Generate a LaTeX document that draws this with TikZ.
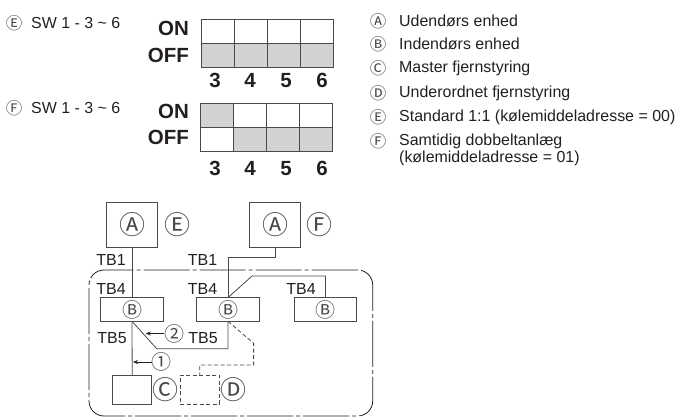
\documentclass[tikz,border=0pt]{standalone}
\usepackage{xcolor}
\usepackage{fontspec}
\setmainfont{Liberation Sans}
\newfontfamily\circfont{Noto Sans CJK JP}
\usepackage{tikz}
\usetikzlibrary{arrows.meta, positioning}
\definecolor{inkDark}{HTML}{231F20}
\definecolor{lineGrey}{HTML}{4A4A4A}
\definecolor{cellGrey}{HTML}{D1D2D4}

\begin{document}
\begin{tikzpicture}[
    x=1pt, y=-1pt,
    txt/.style={font=\fontsize{15.95}{17}\selectfont, text=inkDark, inner sep=0pt},
    tb/.style={font=\fontsize{16}{17}\selectfont, text=inkDark, inner sep=0pt},
    sym/.style={font=\circfont\fontsize{16.5}{18}\selectfont, text=lineGrey, inner sep=0pt},
    symbig/.style={font=\circfont\fontsize{26}{26}\selectfont, text=lineGrey, inner sep=0pt},
    symmid/.style={font=\circfont\fontsize{20}{20}\selectfont, text=lineGrey, inner sep=0pt},
    dip/.style={font=\bfseries\fontsize{20.5}{21}\selectfont, text=inkDark, inner sep=0pt},
    cell/.style={draw=lineGrey, line width=0.8pt, minimum width=33pt, minimum height=24pt,
                 inner sep=0pt, outer sep=0pt},
    unit/.style={draw=lineGrey, line width=0.8pt, minimum width=51pt, minimum height=45.5pt,
                 inner sep=0pt, outer sep=0pt},
    indoor/.style={draw=lineGrey, line width=0.8pt, minimum width=62.3pt, minimum height=23.6pt,
                   inner sep=0pt, outer sep=0pt},
    remote/.style={line width=0.8pt, draw=lineGrey, minimum width=39pt, minimum height=29.3pt,
                   inner sep=0pt, outer sep=0pt},
    wire/.style={draw=lineGrey, line width=0.8pt},
    dashwire/.style={draw=lineGrey, line width=0.8pt, dash pattern=on 4pt off 2.5pt},
    lead/.style={-{Stealth[length=5pt,width=4pt]}, draw=inkDark, line width=0.7pt},
]
\useasboundingbox (0,0) rectangle (678,417);

% Switch settings
\node[sym] (markE) at (14,23) {Ⓔ};
\node[txt, anchor=west] (swE) at (31,23) {SW 1 - 3 \textasciitilde{} 6};
\node[sym] (markF) at (14,108) {Ⓕ};
\node[txt, anchor=west] (swF) at (31,108) {SW 1 - 3 \textasciitilde{} 6};
\node[dip, anchor=east] (onE) at (189,28.5) {ON};
\node[dip, anchor=east] (offE) at (189,55) {OFF};
\node[dip, anchor=east] (onF) at (189,111) {ON};
\node[dip, anchor=east] (offF) at (189,137) {OFF};

\foreach \n/\x/\lx in {3/218/215, 4/251/250, 5/284/286, 6/317/322} {
    \node[cell] (e\n on) at (\x,31) {};
    \node[cell, fill=cellGrey] (e\n off) at (\x,55) {};
    \node[dip, anchor=base] (elabel\n) at (\lx,87.3) {\n};
}
\foreach \n/\x/\lx/\a/\b in {3/217/215/cellGrey/white, 4/250/250/white/cellGrey,
                             5/283/286/white/cellGrey, 6/316/322/white/cellGrey} {
    \node[cell, fill=\a] (f\n on) at (\x,115) {};
    \node[cell, fill=\b] (f\n off) at (\x,139) {};
    \node[dip, anchor=base] (flabel\n) at (\lx,175.8) {\n};
}

% Legend
\foreach \m/\y/\t in {Ⓐ/21/Udendørs enhed, Ⓑ/44/Indendørs enhed,
                      Ⓒ/68/Master fjernstyring, Ⓓ/93/Underordnet fjernstyring,
                      Ⓔ/117/Standard 1:1 (kølemiddeladresse = 00),
                      Ⓕ/141/Samtidig dobbeltanlæg} {
    \node[sym] (leg\y) at (378,\y) {\m};
    \node[txt, anchor=west] (legtxt\y) at (399,\y) {\t};
}
\node[txt, anchor=west] (legtxtlast) at (399,158) {(kølemiddeladresse = 01)};

% Outdoor and indoor units
\node[unit] (outA) at (132,225) {};
\node[symbig] (markAa) at (outA) {Ⓐ};
\node[symbig, right=6.5pt of outA] (unitE) {Ⓔ};
\node[unit] (outB) at (275,225) {};
\node[symbig] (markAb) at (outB) {Ⓐ};
\node[symbig, right=5.5pt of outB] (unitF) {Ⓕ};

\node[indoor] (inA) at (132,309.5) {};
\node[indoor] (inB) at (228,309.5) {};
\node[indoor] (inC) at (325.5,309.5) {};
\node[symmid] (markBa) at (inA) {Ⓑ};
\node[symmid] (markBb) at (inB) {Ⓑ};
\node[symmid] (markBc) at (inC) {Ⓑ};

% Remote controllers
\node[remote] (master) at (132.2,389.7) {};
\node[remote, dashwire] (slave) at (199.7,389.7) {};
\node[symbig, right=0.3pt of master] (markC) {Ⓒ};
\node[symbig, right=0.8pt of slave] (markD) {Ⓓ};

% Boundary
\draw[draw=inkDark, line width=0.8pt, rounded corners=15pt, dash pattern=on 46pt off 3pt on 4pt off 3pt]
    (372.7,270) -- (89,270) -- (89,416) -- (372.7,416) -- cycle;

% Wiring
\draw[wire] (outA.south) -- (inA.north);
\draw[wire] (outB.south) -- ++(0,9.7) -| (inB.north);
\draw[wire] (inB.north) -- ++(24,-21.7) -| (inC.north);
\draw[wire] (inA.south) -- (master.north);
\draw[wire] (inA.south) -- ++(24.7,27.4) -| (inB.south);
\draw[dashwire] (inB.south) -- ++(25.6,22) -- ++(0,21.7) -| (slave.north);

% Cable labels
\node[tb] (tbOneA) at (111,260) {TB1};
\node[tb] (tbOneB) at (202.5,260) {TB1};
\node[tb] (tbFourA) at (111,289) {TB4};
\node[tb] (tbFourB) at (202.5,289) {TB4};
\node[tb] (tbFourC) at (301,289) {TB4};
\node[tb] (tbFiveA) at (112,338) {TB5};
\node[tb] (tbFiveB) at (203,338) {TB5};

% Cable numbers
\node[symmid] (numTwo) at (174,333.5) {②};
\node[symmid] (numOne) at (161.7,362) {①};
\coordinate (tipTwo) at (145.7,333.5);
\coordinate (tipOne) at (133,362);
\draw[lead] (numTwo.west) -- (tipTwo);
\draw[lead] (numOne.west) -- (tipOne);
\end{tikzpicture}
\end{document}
